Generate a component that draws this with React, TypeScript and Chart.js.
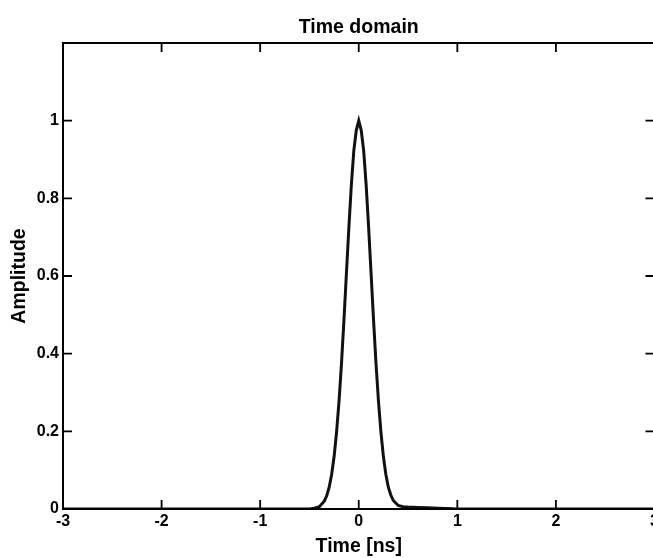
import React, { useEffect, useRef } from "react";
import { Chart, registerables } from "chart.js";

Chart.register(...registerables);

const timeNs = [-3, -1, -0.5, -0.45, -0.4, -0.35, -0.325, -0.3, -0.275, -0.25, -0.225, -0.2, -0.175, -0.15, -0.125, -0.1, -0.075, -0.05, -0.025, 0, 0.025, 0.05, 0.075, 0.1, 0.125, 0.15, 0.175, 0.2, 0.225, 0.25, 0.275, 0.3, 0.325, 0.35, 0.4, 0.45, 0.5, 0.6, 0.7, 0.8, 0.9, 1.0, 3];
const amplitude = [0, 0, 0, 0.002, 0.006, 0.02, 0.034, 0.056, 0.089, 0.135, 0.198, 0.278, 0.375, 0.487, 0.607, 0.726, 0.835, 0.923, 0.975, 1, 0.975, 0.923, 0.835, 0.726, 0.607, 0.487, 0.375, 0.278, 0.198, 0.135, 0.089, 0.056, 0.036, 0.022, 0.009, 0.006, 0.005, 0.004, 0.003, 0.002, 0.001, 0, 0];
const xTicks = [-3, -2, -1, 0, 1, 2, 3];
const yTicks = [0, 0.2, 0.4, 0.6, 0.8, 1];
const titleText = "Time domain";

const FONT = "'Liberation Sans', Arial, Helvetica, sans-serif";
const CANVAS_W = 700;

const framePlugin = {
  id: "frame",
  afterDraw(chart: any) {
    const { ctx, chartArea, scales } = chart;
    const { left, right, top, bottom } = chartArea;
    ctx.save();
    ctx.strokeStyle = "#000";
    ctx.lineWidth = 2;
    ctx.beginPath();
    ctx.moveTo(left, top);
    ctx.lineTo(right, top);
    ctx.lineTo(right, bottom);
    ctx.lineTo(left, bottom);
    ctx.closePath();
    ctx.stroke();
    const len = 9;
    ctx.lineWidth = 1.8;
    ctx.beginPath();
    for (const v of xTicks) {
      const px = scales.x.getPixelForValue(v);
      ctx.moveTo(px, bottom);
      ctx.lineTo(px, bottom - len);
      ctx.moveTo(px, top);
      ctx.lineTo(px, top + len);
    }
    for (const v of yTicks) {
      const py = scales.y.getPixelForValue(v);
      ctx.moveTo(left, py);
      ctx.lineTo(left + len, py);
      ctx.moveTo(right, py);
      ctx.lineTo(right - len, py);
    }
    ctx.stroke();
    ctx.fillStyle = "#000";
    ctx.font = `bold 19.5px ${FONT}`;
    ctx.textAlign = "center";
    ctx.textBaseline = "middle";
    ctx.fillText(titleText, (left + right) / 2, 28);
    ctx.restore();
  },
};

export default function App() {
  const ref = useRef<HTMLCanvasElement | null>(null);
  useEffect(() => {
    if (!ref.current) return;
    const chart = new Chart(ref.current, {
      type: "line",
      data: {
        datasets: [
          {
            data: timeNs.map((t, i) => ({ x: t, y: amplitude[i] })),
            borderColor: "#111",
            borderWidth: 3,
            pointRadius: 0,
            tension: 0,
            fill: false,
          },
        ],
      },
      options: {
        animation: false,
        responsive: false,
        layout: { padding: { left: 0, right: CANVAS_W - 654.5, top: 43, bottom: 0 } },
        plugins: {
          legend: { display: false },
          tooltip: { enabled: false },
          title: { display: false },
        },
        scales: {
          x: {
            type: "linear",
            min: -3,
            max: 3,
            grid: { display: false, drawTicks: false },
            border: { display: false },
            afterFit: (s: any) => {
              s.height = 49;
            },
            afterBuildTicks: (s: any) => {
              s.ticks = xTicks.map((v) => ({ value: v }));
            },
            ticks: {
              color: "#000",
              padding: 2.5,
              font: { family: FONT, size: 16, weight: "bold" },
              callback: (v: any) => String(v),
              maxRotation: 0,
            },
            title: {
              display: true,
              text: "Time [ns]",
              color: "#000",
              font: { family: FONT, size: 19.5, weight: "bold" },
              padding: { top: 0, bottom: 0 },
            },
          },
          y: {
            type: "linear",
            min: 0,
            max: 1.2,
            grid: { display: false, drawTicks: false },
            border: { display: false },
            afterFit: (s: any) => {
              s.width = 63;
            },
            afterBuildTicks: (s: any) => {
              s.ticks = yTicks.map((v) => ({ value: v }));
            },
            ticks: {
              color: "#000",
              padding: 4,
              font: { family: FONT, size: 16, weight: "bold" },
              callback: (v: any) => String(Math.round(Number(v) * 10) / 10),
            },
            title: {
              display: true,
              text: "Amplitude",
              color: "#000",
              font: { family: FONT, size: 19.5, weight: "bold" },
              padding: { top: 8, bottom: 0 },
            },
          },
        },
      },
      plugins: [framePlugin],
    });
    return () => chart.destroy();
  }, []);
  return (
    <div style={{ position: "fixed", left: 0, top: 0, width: 653, height: 558, overflow: "hidden", background: "#fff" }}>
      <canvas ref={ref} width={CANVAS_W} height={558} style={{ display: "block" }} />
    </div>
  );
}
